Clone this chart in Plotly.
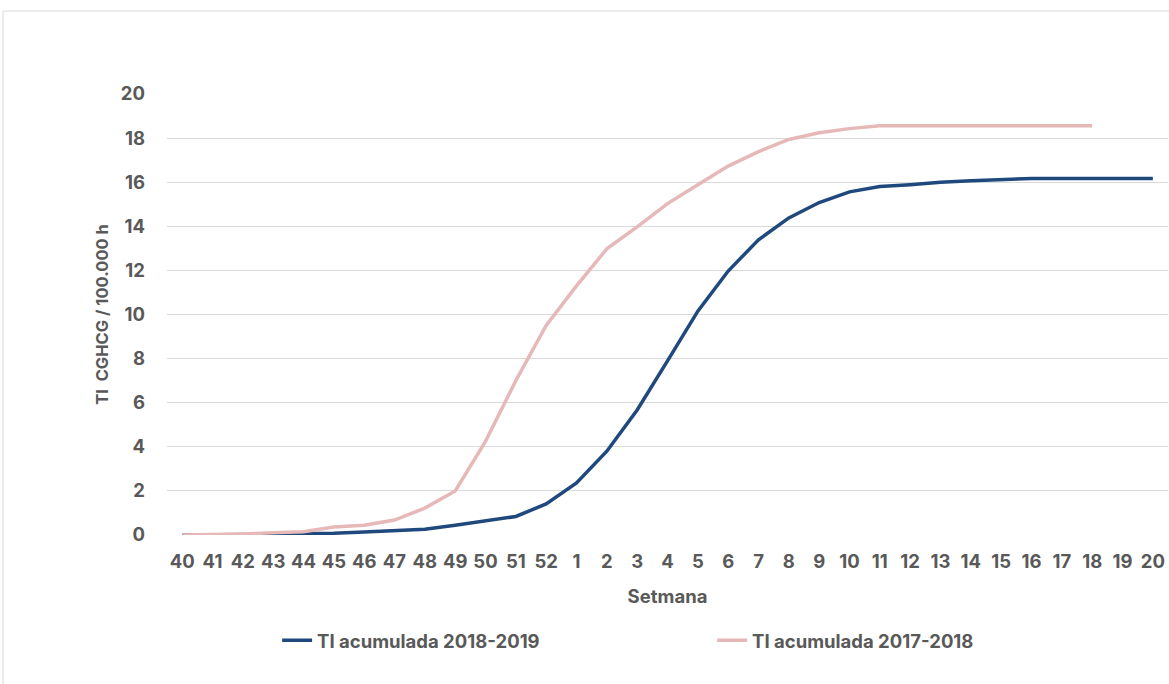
import plotly.graph_objects as go

# Epidemiological weeks of the season (week 40 through week 20)
weeks = [str(w) for w in list(range(40, 53)) + list(range(1, 21))]

# Cumulative incidence rate, 2018-2019 season
ti_2018_2019 = [0.0, 0.0, 0.01, 0.03, 0.06, 0.08, 0.14, 0.20, 0.26, 0.44, 0.62, 0.84, 1.41,
                2.36, 3.80, 5.67, 7.90, 10.15, 11.97, 13.39, 14.38, 15.08, 15.56, 15.80,
                15.89, 16.00, 16.07, 16.12, 16.17, 16.17, 16.17, 16.17, 16.17]

# Cumulative incidence rate, 2017-2018 season (ends at week 18)
ti_2017_2018 = [0.0, 0.02, 0.05, 0.10, 0.15, 0.36, 0.44, 0.68, 1.22, 2.0, 4.25, 7.0, 9.5,
                11.3, 12.98, 13.97, 15.03, 15.88, 16.73, 17.39, 17.94, 18.24, 18.43, 18.56,
                18.56, 18.56, 18.56, 18.56, 18.56, 18.56, 18.56]

y_ticks = list(range(0, 21, 2))

TEXT = "#595959"
FONT = "Inter"
SIZE = 18.5

fig = go.Figure()
fig.add_trace(go.Scatter(
    x=weeks, y=ti_2018_2019, mode="lines", name="TI acumulada 2018-2019",
    line=dict(color="#1F497D", width=3.5),
))
fig.add_trace(go.Scatter(
    x=weeks[:len(ti_2017_2018)], y=ti_2017_2018, mode="lines", name="TI acumulada 2017-2018",
    line=dict(color="#E6B9B8", width=3.5),
))

fig.update_layout(
    width=1169, height=684,
    margin=dict(l=167, r=1, t=94, b=149),
    paper_bgcolor="white", plot_bgcolor="white",
    font=dict(family=FONT, color=TEXT, size=SIZE, weight="bold"),
    showlegend=True,
    legend=dict(
        orientation="h", x=0.11, xanchor="left", y=-0.24, yanchor="middle",
        font=dict(family=FONT, size=SIZE, color=TEXT, weight="bold"),
        entrywidth=390, traceorder="normal",
    ),
    xaxis=dict(
        type="category", categoryorder="array", categoryarray=weeks,
        range=[-0.5, len(weeks) - 0.5],
        showgrid=False, showline=False, zeroline=False, ticks="",
        ticklabelstandoff=13,
        tickfont=dict(family=FONT, size=SIZE, color=TEXT, weight="bold"),
        title=dict(text="Setmana", standoff=19,
                   font=dict(family=FONT, size=SIZE, color=TEXT, weight="bold")),
    ),
    yaxis=dict(
        range=[0, 20], tickvals=y_ticks, ticktext=[str(v) for v in y_ticks],
        showgrid=True, gridcolor="#D9D9D9", gridwidth=1,
        zeroline=False, showline=False, ticks="", ticklabelstandoff=21,
        tickfont=dict(family=FONT, size=SIZE, color=TEXT, weight="bold"),
        title=dict(text="TI  CGHCG / 100.000 h", standoff=8,
                   font=dict(family=FONT, size=16.5, color=TEXT, weight="bold")),
    ),
    shapes=[dict(
        type="rect", xref="paper", yref="paper",
        x0=(3 - 167) / 1001, x1=1.1, y0=-0.4, y1=(535 - 11) / 441,
        line=dict(color="#D9D9D9", width=1), fillcolor="rgba(0,0,0,0)", layer="below",
    )],
)

fig.write_html("out.html")
